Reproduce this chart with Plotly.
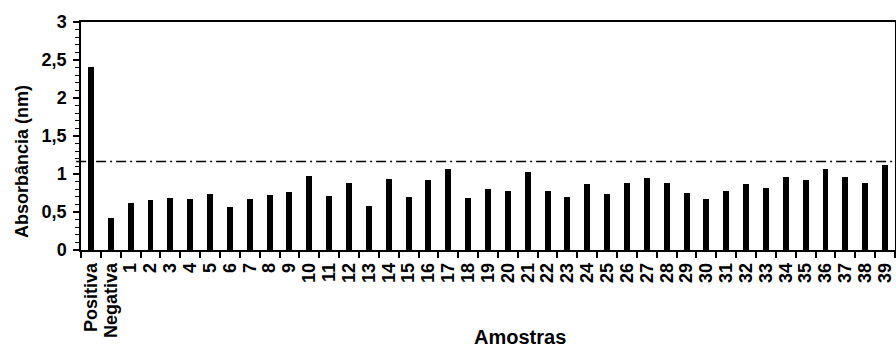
import plotly.graph_objects as go

# Absorbance readings per sample (positive / negative controls, then samples 1-39)
categories = ["Positiva", "Negativa"] + [str(i) for i in range(1, 40)]
absorbance = [
    2.41, 0.42,
    0.62, 0.66, 0.68, 0.67, 0.74, 0.56, 0.67, 0.73, 0.76, 0.97,
    0.715, 0.886, 0.575, 0.934, 0.70, 0.92, 1.06, 0.69, 0.807, 0.77,
    1.026, 0.78, 0.70, 0.864, 0.737, 0.877, 0.943, 0.886, 0.75, 0.667,
    0.78, 0.864, 0.816, 0.956, 0.92, 1.07, 0.965, 0.886, 1.118,
]
cutoff = 1.165

y_tickvals = [0, 0.5, 1, 1.5, 2, 2.5, 3]
y_ticktext = ["0", "0,5", "1", "1,5", "2", "2,5", "3"]

font_family = "Liberation Sans, Arial, sans-serif"

fig = go.Figure()
fig.add_trace(go.Bar(
    x=categories,
    y=absorbance,
    width=0.3,
    marker=dict(color="black", line=dict(width=0)),
    showlegend=False,
))

# Cut-off line
fig.add_shape(
    type="line", xref="paper", yref="y",
    x0=-0.006, x1=0.997, y0=cutoff, y1=cutoff,
    line=dict(color="black", width=1.5, dash="10px,4px,2px,4px"),
)

fig.update_layout(
    width=896, height=347,
    margin=dict(l=81, r=1, t=22, b=97, autoexpand=False),
    paper_bgcolor="white", plot_bgcolor="white",
    font=dict(family=font_family, color="black"),
    bargap=0,
    annotations=[
        dict(text="Amostras", xref="paper", yref="paper", x=0.539, y=-0.382,
             xanchor="center", yanchor="middle", showarrow=False,
             font=dict(family=font_family, size=20, weight="bold", color="black")),
        dict(text="Absorbância (nm)", xref="paper", yref="paper", x=-0.0725, y=0.39,
             xanchor="center", yanchor="middle", showarrow=False, textangle=-90,
             font=dict(family=font_family, size=18, weight="bold", color="black")),
    ],
)

fig.update_xaxes(
    type="category",
    range=[-0.5, len(categories) - 0.5],
    tickmode="linear", tick0=0, dtick=1,
    tickangle=-90,
    tickfont=dict(family=font_family, size=18, weight="bold", color="black"),
    ticks="outside", tickson="boundaries", ticklen=6, tickwidth=1.5, tickcolor="black",
    ticklabelstandoff=4,
    showline=True, linecolor="black", linewidth=1.5, mirror=True,
    showgrid=False, automargin=False,
)

fig.update_yaxes(
    range=[0, 3],
    tickvals=y_tickvals, ticktext=y_ticktext,
    tickfont=dict(family=font_family, size=18, weight="bold", color="black"),
    ticks="outside", ticklen=6, tickwidth=1.5, tickcolor="black",
    ticklabelstandoff=3,
    minor=dict(dtick=0.1, ticks="outside", ticklen=4, tickwidth=1, tickcolor="black"),
    showline=True, linecolor="black", linewidth=1.5, mirror=True,
    showgrid=False, zeroline=False, automargin=False,
)

fig.write_html("out.html")
